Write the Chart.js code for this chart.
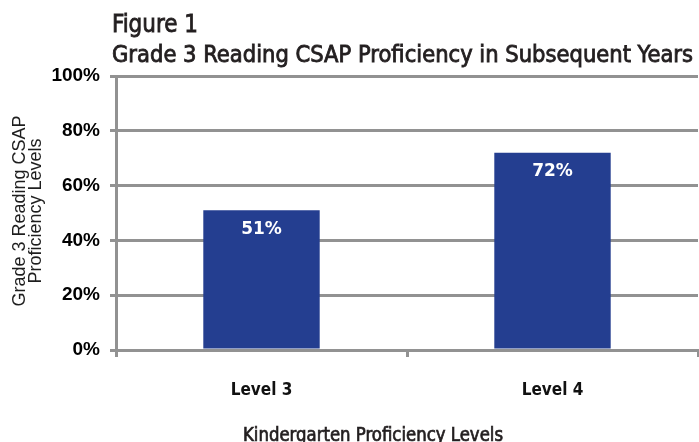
<!DOCTYPE html>
<html><head><meta charset="utf-8">
<script src="https://cdn.jsdelivr.net/npm/chart.js@4.4.1/dist/chart.umd.min.js"></script>
<style>html,body{margin:0;padding:0;background:#fff;}#wrap{width:699px;height:442px;}</style>
</head><body><div id="wrap"><canvas id="c" width="699" height="442"></canvas></div>
<script>
const categories = ['Level 3', 'Level 4'];
const proficiency = [51, 72];
const yTickValues = [0, 20, 40, 60, 80, 100];
const titleLines = ['Figure 1', 'Grade 3 Reading CSAP Proficiency in Subsequent Years'];
const yTitleLines = ['Grade 3 Reading CSAP', 'Proficiency Levels'];
const xTitle = 'Kindergarten Proficiency Levels';

const NARROW = '"Liberation Sans Narrow", "DejaVu Sans Condensed", "Liberation Sans", sans-serif';
const SANS = '"Liberation Sans", Arial, sans-serif';
const GRID = '#929292';
const BAR = '#243e90';

function fitText(ctx, text, x, y, font, targetW, align, stroke) {
  ctx.save();
  ctx.font = font;
  const w = ctx.measureText(text).width;
  ctx.translate(x, y);
  ctx.scale(targetW / w, 1);
  ctx.textAlign = align;
  ctx.textBaseline = 'alphabetic';
  ctx.fillText(text, 0, 0);
  if (stroke) {
    ctx.strokeStyle = ctx.fillStyle;
    ctx.lineWidth = stroke;
    ctx.strokeText(text, 0, 0);
  }
  ctx.restore();
}

const textPlugin = {
  id: 'texts',
  afterDatasetsDraw(chart) {
    const ctx = chart.ctx;
    ctx.save();
    ctx.fillStyle = '#231f20';
    fitText(ctx, titleLines[0], 112, 32, '25px ' + NARROW, 86, 'left', 0.8);
    fitText(ctx, titleLines[1], 112, 62, '23px ' + NARROW, 581, 'left', 0.8);
    fitText(ctx, xTitle, 373, 441, '19px ' + NARROW, 260, 'center', 0.7);
    // y axis title
    ctx.save();
    ctx.translate(0, 211);
    ctx.rotate(-Math.PI / 2);
    ctx.font = '18px ' + SANS;
    ctx.fillStyle = '#1e1e1e';
    ctx.textAlign = 'center';
    ctx.textBaseline = 'alphabetic';
    ctx.fillText(yTitleLines[0], 0, 25);
    ctx.fillText(yTitleLines[1], 0, 41);
    ctx.restore();
    // data labels
    const meta = chart.getDatasetMeta(0);
    const ys = chart.scales.y;
    ctx.font = 'bold 17px "DejaVu Sans", sans-serif';
    ctx.fillStyle = '#ffffff';
    ctx.textAlign = 'center';
    ctx.textBaseline = 'middle';
    meta.data.forEach((bar, i) => {
      ctx.fillText(proficiency[i] + '%', bar.x, ys.getPixelForValue(proficiency[i]) + 19);
    });
    ctx.restore();
  }
};

new Chart(document.getElementById('c'), {
  type: 'bar',
  data: {
    labels: categories,
    datasets: [{
      data: proficiency,
      backgroundColor: BAR,
      borderWidth: 0,
      barPercentage: 0.4,
      categoryPercentage: 1.0
    }]
  },
  options: {
    responsive: false,
    animation: false,
    devicePixelRatio: 1,
    layout: { padding: { left: 0, top: 76, right: 1, bottom: 0 } },
    plugins: { legend: { display: false }, tooltip: { enabled: false }, title: { display: false } },
    scales: {
      x: {
        offset: true,
        afterFit(scale) { scale.height = 92; },
        grid: { drawOnChartArea: false, drawTicks: true, tickLength: 7, color: GRID, lineWidth: 3 },
        border: { display: true, color: GRID, width: 3 },
        ticks: { color: '#111', font: { family: NARROW, size: 17, weight: 'bold' }, padding: 23 }
      },
      y: {
        min: 0, max: 100,
        afterFit(scale) { scale.width = 116; },
        afterBuildTicks(scale) { scale.ticks = yTickValues.map(v => ({ value: v })); },
        grid: { color: GRID, lineWidth: 3, tickLength: 6, drawTicks: true },
        border: { display: true, color: GRID, width: 3 },
        ticks: { color: '#000', font: { family: SANS, size: 19, weight: 'bold' }, padding: 10,
                 callback: v => v + '%' }
      }
    }
  },
  plugins: [textPlugin]
});
</script></body></html>
